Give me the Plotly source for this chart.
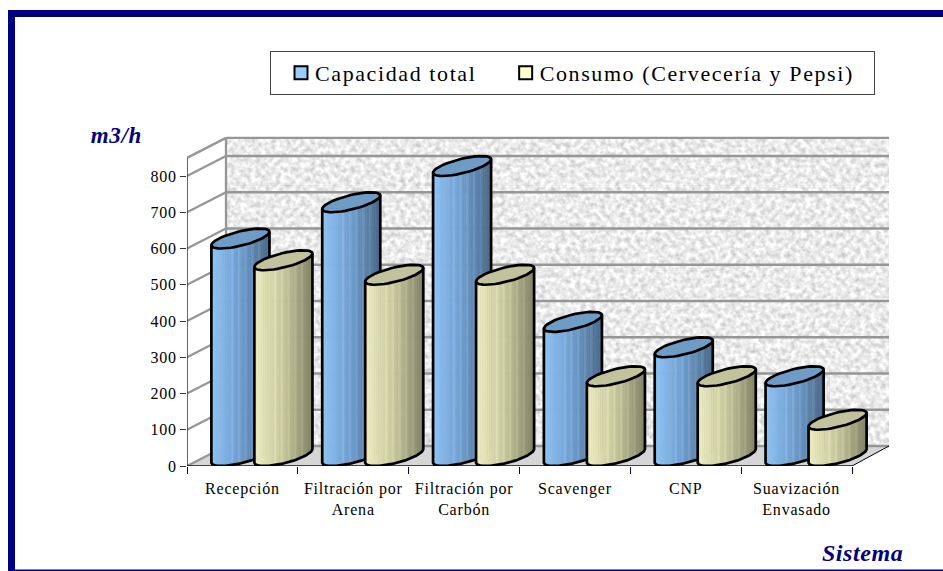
import base64
import math

import plotly.graph_objects as go

# Chart content
categories = ["Recepción", "Filtración por<br>Arena", "Filtración por<br>Carbón",
              "Scavenger", "CNP", "Suavización<br>Envasado"]
capacidad_total = [600, 700, 800, 370, 300, 220]
consumo = [540, 500, 500, 220, 220, 100]
series_names = ["Capacidad total", "Consumo (Cervecería y Pepsi)"]
y_ticks = [0, 100, 200, 300, 400, 500, 600, 700, 800]

# Pixel frame of the plotting area inside the 943x571 page
W, H = 943, 571
PLOT_L, PLOT_R, PLOT_T, PLOT_B = 187, 895, 125, 466
PX_PER_CAT = 665 / 6
PX_PER_UNIT = 36.25 / 100

# Oblique depth of the box and width of one cylinder, in axis units
DEPTH_X = 39 / PX_PER_CAT
DEPTH_Y = 20 / PX_PER_UNIT
BAR_W = 43 / PX_PER_CAT
Y_AXIS_MAX = 850
WALL_RIGHT = (889 - PLOT_L) / PX_PER_CAT
X_MAX = (PLOT_R - PLOT_L) / PX_PER_CAT
Y_MAX = (PLOT_B - PLOT_T) / PX_PER_UNIT

NAVY = "#000080"
GRID = "#969696"
N_BANDS = 26
TEXT_FONT = "Liberation Serif"


def lerp3(stops, t):
    """Piecewise colour ramp across a cylinder's width."""
    a, b, s = (stops[0], stops[1], t * 2) if t < 0.5 else (stops[1], stops[2], t * 2 - 1)
    return [a[i] + (b[i] - a[i]) * s for i in range(3)]


def band_colour(stops, k):
    t = k / (N_BANDS - 1)
    c = lerp3(stops, t)
    # The surface shading has faint pale ribs through its middle
    boost = 12 if (0.3 < t < 0.85 and k % 3 == 0) else 0
    return "rgb(%d,%d,%d)" % tuple(min(255, v + boost) for v in c)


def rim_point(cx, base, theta):
    """Point on a cylinder's elliptical rim, sheared along the depth direction."""
    return (cx + BAR_W / 2 * math.cos(theta) + DEPTH_X / 2 * math.sin(theta),
            base + DEPTH_Y / 2 * math.sin(theta))


PHI = math.atan2(DEPTH_X / 2, BAR_W / 2)


def theta_at(frac):
    """Angle on the near arc at a fraction of the cylinder's width (0 left, 1 right)."""
    return PHI + 2 * math.pi - math.acos(2 * frac - 1)


def cylinder_series(values, offset, stops, top_colour, name):
    traces = []
    centers = [i + 0.5 + offset + DEPTH_X / 2 for i in range(len(values))]
    # Side surface: same-coloured vertical bands of all bars share one trace
    for k in range(N_BANDS):
        xs, ys = [], []
        for cx, v in zip(centers, values):
            t1, t2 = theta_at(k / N_BANDS), theta_at((k + 1) / N_BANDS)
            b1, b2 = rim_point(cx, DEPTH_Y / 2, t1), rim_point(cx, DEPTH_Y / 2, t2)
            u1, u2 = rim_point(cx, v + DEPTH_Y / 2, t1), rim_point(cx, v + DEPTH_Y / 2, t2)
            xs += [u1[0], u2[0], b2[0] + 0.002, b1[0], u1[0], None]
            ys += [u1[1], u2[1], b2[1], b1[1], u1[1], None]
        colour = band_colour(stops, k)
        traces.append(go.Scatter(x=xs, y=ys, mode="lines", fill="toself", fillcolor=colour,
                                 line=dict(width=0.6, color=colour), hoverinfo="skip",
                                 showlegend=False, cliponaxis=False))
    # Top caps and black outlines
    cap_x, cap_y, out_x, out_y = [], [], [], []
    steps = 48
    for cx, v in zip(centers, values):
        top = v + DEPTH_Y / 2
        ring = [rim_point(cx, top, 2 * math.pi * j / steps) for j in range(steps + 1)]
        cap_x += [p[0] for p in ring] + [None]
        cap_y += [p[1] for p in ring] + [None]
        out_x += [p[0] for p in ring] + [None]
        out_y += [p[1] for p in ring] + [None]
        arc = [rim_point(cx, DEPTH_Y / 2, theta_at(j / steps)) for j in range(steps + 1)]
        lx, ly = rim_point(cx, top, theta_at(0))
        rx, ry = rim_point(cx, top, theta_at(1))
        out_x += [lx] + [p[0] for p in arc] + [rx, None]
        out_y += [ly] + [p[1] for p in arc] + [ry, None]
    traces.append(go.Scatter(x=cap_x, y=cap_y, mode="lines", fill="toself", fillcolor=top_colour,
                             line=dict(width=0), hoverinfo="skip", showlegend=False,
                             cliponaxis=False))
    traces.append(go.Scatter(x=out_x, y=out_y, mode="lines", line=dict(color="black", width=2.7),
                             hoverinfo="skip", showlegend=False, cliponaxis=False, name=name))
    return traces


def box_lines(points, colour, width):
    """Line trace for the box frame; points are (x0, y0, x1, y1) segments in axis units."""
    xs, ys = [], []
    for x0, y0, x1, y1 in points:
        xs += [x0, x1, None]
        ys += [y0, y1, None]
    return go.Scatter(x=xs, y=ys, mode="lines", line=dict(color=colour, width=width),
                      hoverinfo="skip", showlegend=False, cliponaxis=False)


BLUE_STOPS = [(143, 195, 245), (110, 156, 204), (76, 106, 140)]
CREAM_STOPS = [(238, 238, 194), (198, 198, 156), (132, 132, 104)]

fig = go.Figure()

# Back-wall gridlines, side-wall lines and axes sit on top of the wall texture
grid_segments = []
for v in y_ticks + [Y_AXIS_MAX]:
    grid_segments.append((DEPTH_X, v + DEPTH_Y, WALL_RIGHT, v + DEPTH_Y))
    grid_segments.append((0, v, DEPTH_X, v + DEPTH_Y))
grid_segments.append((DEPTH_X, DEPTH_Y, DEPTH_X, Y_AXIS_MAX + DEPTH_Y))
fig.add_trace(box_lines(grid_segments, GRID, 2.3))
fig.add_trace(box_lines([(6, 0, WALL_RIGHT, DEPTH_Y)], "black", 1))
fig.add_trace(box_lines([(0, 0, 0, Y_AXIS_MAX)], "#333333", 1.5))
fig.add_trace(box_lines([(0, 0, 6, 0)], NAVY, 1.5))

for trace in cylinder_series(capacidad_total, -BAR_W / 2, BLUE_STOPS, "#6f9cc6", series_names[0]):
    fig.add_trace(trace)
for trace in cylinder_series(consumo, BAR_W / 2, CREAM_STOPS, "#c2c29c", series_names[1]):
    fig.add_trace(trace)

# Legend entries; trailing non-breaking spaces widen each entry's slot
for name, colour, pad in zip(series_names, ["#99ccff", "#ffffcc"], ["\u00a0\u00a0", "\u00a0\u00a0"]):
    fig.add_trace(go.Scatter(x=[None], y=[None], mode="markers", name=name + pad,
                             marker=dict(symbol="square", size=13, color=colour,
                                         line=dict(color="black", width=2))))

shapes = [dict(type="path", xref="x", yref="y", layer="below", line=dict(width=0),
               fillcolor="#d6d6d6",
               path=f"M0,0 L{DEPTH_X},{DEPTH_Y} L{WALL_RIGHT},{DEPTH_Y} L6,0 Z")]


def paper_rect(x0, y0, x1, y1):
    # Page-frame band given in pixels
    return dict(type="rect", xref="paper", yref="paper", layer="below", line=dict(width=0),
                fillcolor=NAVY,
                x0=(x0 - PLOT_L) / (PLOT_R - PLOT_L), x1=(x1 - PLOT_L) / (PLOT_R - PLOT_L),
                y0=(PLOT_B - y0) / (PLOT_B - PLOT_T), y1=(PLOT_B - y1) / (PLOT_B - PLOT_T))


shapes += [paper_rect(8, 10, W, 17), paper_rect(8, 10, 15, H), paper_rect(8, 569.5, W, 571)]

# Mottled stone texture of the back wall, produced by an SVG noise filter
texture_svg = """<svg xmlns="http://www.w3.org/2000/svg" width="663" height="307">
<filter id="n" x="0" y="0" width="100%" height="100%" color-interpolation-filters="sRGB">
<feTurbulence type="fractalNoise" baseFrequency="0.2 0.2" numOctaves="2" seed="7"/>
<feColorMatrix type="matrix" values="0.38 0 0 0 0.73  0.38 0 0 0 0.73  0.38 0 0 0 0.73  0 0 0 0 1"/>
</filter>
<rect width="663" height="307" filter="url(#n)"/>
</svg>"""
texture_uri = "data:image/svg+xml;base64," + base64.b64encode(texture_svg.encode()).decode()

fig.update_layout(
    width=W, height=H,
    autosize=False,
    margin=dict(l=PLOT_L, r=W - PLOT_R, t=PLOT_T, b=H - PLOT_B, autoexpand=False),
    paper_bgcolor="white",
    plot_bgcolor="rgba(0,0,0,0)",
    font=dict(family=TEXT_FONT, color="black", size=16),
    shapes=shapes,
    images=[dict(source=texture_uri, xref="x", yref="y", x=DEPTH_X, y=Y_AXIS_MAX + DEPTH_Y,
                 sizex=WALL_RIGHT - DEPTH_X, sizey=Y_AXIS_MAX, sizing="stretch",
                 xanchor="left", yanchor="top", layer="below")],
    xaxis=dict(range=[0, X_MAX], showgrid=False, zeroline=False, showline=False,
               tickmode="array", tickvals=[i + 0.5 for i in range(6)], ticktext=categories,
               ticks="", ticklabelstandoff=11, tickfont=dict(size=16),
               minor=dict(tickmode="array", tickvals=list(range(7)), ticks="outside",
                          ticklen=7, tickcolor=NAVY, tickwidth=1, showgrid=False)),
    yaxis=dict(range=[0, Y_MAX], showgrid=False, zeroline=False, showline=False,
               tickmode="array", tickvals=y_ticks, ticks="outside", ticklen=6,
               tickcolor="#333333", tickwidth=1, tickfont=dict(size=16)),
    legend=dict(orientation="h", x=(270 - PLOT_L) / (PLOT_R - PLOT_L),
                y=(PLOT_B - 51) / (PLOT_B - PLOT_T), xanchor="left", yanchor="top",
                bordercolor="#444444", borderwidth=1, bgcolor="white",
                font=dict(size=22, family=TEXT_FONT), itemwidth=34),
    annotations=[
        dict(text="<b><i>m3/h</i></b>", xref="paper", yref="paper", showarrow=False,
             x=(116 - PLOT_L) / (PLOT_R - PLOT_L), y=(PLOT_B - 135) / (PLOT_B - PLOT_T),
             xanchor="center", yanchor="middle", font=dict(size=23, color=NAVY, family=TEXT_FONT)),
        dict(text="<b><i>Sistema</i></b>", xref="paper", yref="paper", showarrow=False,
             x=(862 - PLOT_L) / (PLOT_R - PLOT_L), y=(PLOT_B - 552.5) / (PLOT_B - PLOT_T),
             xanchor="center", yanchor="middle", font=dict(size=24, color=NAVY, family=TEXT_FONT)),
    ],
)

# Open letter spacing on the labels; the small font change makes the legend measure again,
# and the swatches then move closer to their texts
spacing_js = """
var gd = document.querySelector('.plotly-graph-div');
var css = document.createElement('style');
css.textContent = '.xtick text, .ytick text { letter-spacing: 0.8px; }'
  + ' .legendtext { letter-spacing: 1.6px; }'
  + ' .annotation-text { letter-spacing: 0.6px; }';
document.head.appendChild(css);
Plotly.relayout(gd, {'legend.font.size': 22.01}).then(function () {
  gd.querySelectorAll('.legendpoints').forEach(function (g) {
    g.setAttribute('transform', 'translate(8,0)');
  });
});
"""

fig.write_html("out.html", post_script=spacing_js)
